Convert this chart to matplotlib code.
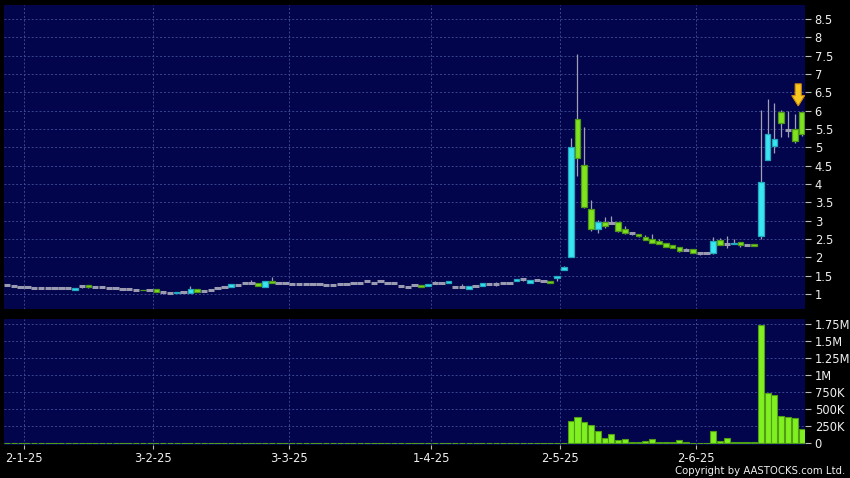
import matplotlib
matplotlib.use("Agg")
import matplotlib.pyplot as plt
import numpy as np
from matplotlib.patches import FancyArrow
from matplotlib.ticker import FixedLocator, FuncFormatter

# ---- data (trading-day index 0 = 27-12-24 ... 117 = 23-6-25) ----
opens = [1.25, 1.23, 1.20, 1.20, 1.16, 1.16, 1.16, 1.17, 1.15, 1.15,
         1.10, 1.22, 1.24, 1.18, 1.18, 1.17, 1.17, 1.14, 1.14, 1.11,
         1.12, 1.10, 1.13, 1.04, 1.02, 1.02, 1.06, 1.02, 1.13, 1.09,
         1.10, 1.15, 1.18, 1.18, 1.24, 1.29, 1.29, 1.29, 1.18, 1.36,
         1.29, 1.29, 1.27, 1.27, 1.27, 1.26, 1.26, 1.24, 1.24, 1.27,
         1.27, 1.30, 1.31, 1.34, 1.31, 1.34, 1.31, 1.29, 1.22, 1.19,
         1.24, 1.24, 1.23, 1.30, 1.31, 1.29, 1.18, 1.18, 1.13, 1.23,
         1.23, 1.27, 1.27, 1.30, 1.31, 1.35, 1.40, 1.31, 1.37, 1.35,
         1.35, 1.44, 1.66, 2.00, 5.76, 4.51, 3.31, 2.78, 2.95, 2.94,
         2.97, 2.76, 2.65, 2.63, 2.56, 2.49, 2.45, 2.38, 2.33, 2.27,
         2.20, 2.22, 2.13, 2.11, 2.11, 2.46, 2.36, 2.36, 2.43, 2.34,
         2.36, 2.58, 4.65, 5.03, 5.95, 5.47, 5.51, 5.95]
highs = [1.25, 1.23, 1.20, 1.20, 1.16, 1.16, 1.16, 1.17, 1.15, 1.15,
         1.17, 1.22, 1.24, 1.18, 1.18, 1.17, 1.17, 1.14, 1.14, 1.11,
         1.12, 1.10, 1.13, 1.04, 1.02, 1.06, 1.06, 1.22, 1.13, 1.09,
         1.10, 1.15, 1.18, 1.26, 1.24, 1.29, 1.38, 1.29, 1.35, 1.47,
         1.29, 1.29, 1.27, 1.27, 1.27, 1.26, 1.26, 1.24, 1.24, 1.27,
         1.27, 1.30, 1.31, 1.34, 1.31, 1.34, 1.31, 1.29, 1.22, 1.19,
         1.24, 1.24, 1.28, 1.36, 1.31, 1.35, 1.18, 1.26, 1.22, 1.23,
         1.29, 1.27, 1.33, 1.30, 1.31, 1.40, 1.44, 1.37, 1.37, 1.35,
         1.35, 1.50, 1.75, 5.25, 7.55, 5.55, 3.56, 3.02, 3.09, 3.13,
         2.97, 2.86, 2.68, 2.63, 2.62, 2.63, 2.50, 2.38, 2.33, 2.27,
         2.25, 2.22, 2.13, 2.11, 2.55, 2.52, 2.58, 2.50, 2.43, 2.36,
         2.36, 6.02, 6.31, 6.20, 6.02, 6.00, 5.90, 5.95]
lows = [1.25, 1.23, 1.20, 1.17, 1.16, 1.16, 1.16, 1.17, 1.15, 1.15,
        1.10, 1.15, 1.16, 1.18, 1.18, 1.17, 1.17, 1.11, 1.14, 1.11,
        1.10, 1.10, 1.05, 1.01, 1.02, 1.02, 1.06, 1.02, 1.06, 1.09,
        1.10, 1.15, 1.18, 1.18, 1.24, 1.29, 1.29, 1.22, 1.18, 1.29,
        1.29, 1.29, 1.27, 1.27, 1.27, 1.26, 1.26, 1.24, 1.24, 1.27,
        1.27, 1.30, 1.31, 1.34, 1.31, 1.34, 1.31, 1.29, 1.22, 1.19,
        1.24, 1.18, 1.23, 1.30, 1.31, 1.29, 1.18, 1.18, 1.13, 1.23,
        1.23, 1.27, 1.21, 1.30, 1.31, 1.35, 1.35, 1.31, 1.37, 1.35,
        1.30, 1.35, 1.66, 2.00, 4.22, 3.34, 2.73, 2.67, 2.79, 2.92,
        2.70, 2.63, 2.62, 2.56, 2.46, 2.40, 2.35, 2.29, 2.24, 2.14,
        2.18, 2.11, 2.05, 2.11, 2.10, 2.33, 2.26, 2.36, 2.27, 2.34,
        2.32, 2.49, 4.65, 4.85, 5.29, 5.28, 5.11, 5.32]
closes = [1.25, 1.23, 1.20, 1.20, 1.16, 1.16, 1.16, 1.17, 1.15, 1.15,
          1.17, 1.22, 1.19, 1.18, 1.18, 1.17, 1.17, 1.14, 1.14, 1.11,
          1.10, 1.10, 1.05, 1.04, 1.02, 1.06, 1.06, 1.13, 1.06, 1.09,
          1.10, 1.15, 1.18, 1.26, 1.24, 1.29, 1.29, 1.22, 1.35, 1.29,
          1.29, 1.29, 1.27, 1.27, 1.27, 1.26, 1.26, 1.24, 1.24, 1.27,
          1.27, 1.30, 1.31, 1.34, 1.31, 1.34, 1.31, 1.29, 1.22, 1.19,
          1.24, 1.18, 1.28, 1.30, 1.31, 1.35, 1.18, 1.18, 1.22, 1.23,
          1.29, 1.27, 1.27, 1.30, 1.31, 1.40, 1.40, 1.37, 1.37, 1.35,
          1.30, 1.50, 1.73, 5.02, 4.70, 3.38, 2.76, 2.96, 2.85, 2.94,
          2.71, 2.65, 2.65, 2.57, 2.47, 2.40, 2.36, 2.29, 2.24, 2.16,
          2.20, 2.11, 2.13, 2.11, 2.44, 2.33, 2.36, 2.40, 2.33, 2.34,
          2.32, 4.05, 5.36, 5.22, 5.65, 5.47, 5.18, 5.36]
volumes_k = [0] * 83 + [327, 386, 308, 268, 180, 78, 132, 48, 58, 20,
                        20, 34, 63, 20, 20, 20, 44, 20, 0, 8,
                        6, 180, 34, 78, 20, 20, 12, 12, 1730, 742,
                        708, 400, 390, 371, 214]
date_labels = ["2-1-25", "3-2-25", "3-3-25", "1-4-25", "2-5-25", "2-6-25"]
date_idx = [3, 22, 42, 63, 82, 102]
price_ticks = [1, 1.5, 2, 2.5, 3, 3.5, 4, 4.5, 5, 5.5, 6, 6.5, 7, 7.5, 8, 8.5]
vol_ticks_k = [0, 250, 500, 750, 1000, 1250, 1500, 1750]

# ---- styling ----
BG = "#02044c"
GRID = "#3a4690"
UP_FILL, UP_EDGE = "#3ae6f2", "#22a9c0"
DN_FILL, DN_EDGE = "#7fe31e", "#4e9a18"
FLAT = "#9a9ab0"
WICK = "#a0a0b4"
TXT = "#f0f0f0"

fig = plt.figure(figsize=(8.5, 4.78), dpi=100, facecolor="black")
W, H = 850, 478
ax1 = fig.add_axes([4 / W, 1 - 309 / H, 801 / W, 304 / H], facecolor=BG)
ax2 = fig.add_axes([4 / W, 1 - 445 / H, 801 / W, 126 / H], facecolor=BG, sharex=ax1)

o = np.array(opens); h = np.array(highs); l = np.array(lows); c = np.array(closes)
x = np.arange(len(o))
up = c > o
dn = c < o
flat = c == o

# wicks
ax1.vlines(x, l, h, color=WICK, linewidth=0.9, zorder=2)
# bodies
bw = 0.84
ax1.bar(x[up], (c - o)[up], bottom=o[up], width=bw, color=UP_FILL,
        edgecolor=UP_EDGE, linewidth=0.9, zorder=3)
ax1.bar(x[dn], (o - c)[dn], bottom=c[dn], width=bw, color=DN_FILL,
        edgecolor=DN_EDGE, linewidth=0.9, zorder=3)
ax1.hlines(c[flat], x[flat] - bw / 2 - 0.05, x[flat] + bw / 2 + 0.05,
           color=FLAT, linewidth=2.2, zorder=3)

# marker arrow above the last candle
last = len(o) - 1
arr = FancyArrow(last - 0.5, h[last] + 0.78, 0, -0.6, width=0.9,
                 head_width=1.9, head_length=0.28, length_includes_head=True,
                 facecolor="#f7c81e", edgecolor="#d08a10", linewidth=0.8, zorder=5)
ax1.add_patch(arr)

# volume
v = np.array(volumes_k) * 1000.0
ax2.bar(x, v, width=0.9, color="#80f020", edgecolor="#4f9e16", linewidth=0.8, zorder=3)

# axes ranges
ax1.set_xlim(-0.44, 117.5)
ax1.set_ylim(0.59, 8.88)
ax2.set_ylim(-25000, 1823000)

grid_pos = [i - 0.545 for i in date_idx]
for ax in (ax1, ax2):
    for s in ax.spines.values():
        s.set_visible(False)
    ax.yaxis.tick_right()
    ax.tick_params(axis="y", colors="#bbbbbb", labelcolor=TXT, labelsize=8.3,
                   length=4, width=0.8, pad=3, direction="out")
    ax.xaxis.set_major_locator(FixedLocator(grid_pos))
    ax.grid(True, color=GRID, linestyle=(0, (2, 2)), linewidth=0.7, zorder=0)
    ax.set_axisbelow(True)

ax1.yaxis.set_major_locator(FixedLocator(price_ticks))
ax1.yaxis.set_major_formatter(FuncFormatter(lambda val, pos: f"{val:g}"))
ax1.tick_params(axis="x", bottom=False, labelbottom=False)


def vfmt(val, pos):
    k = val / 1000.0
    if k == 0:
        return "0"
    if k >= 1000:
        return f"{k / 1000:g}M"
    return f"{k:g}K"


ax2.yaxis.set_major_locator(FixedLocator([t * 1000 for t in vol_ticks_k]))
ax2.yaxis.set_major_formatter(FuncFormatter(vfmt))
ax2.set_xticks(grid_pos)
ax2.set_xticklabels(date_labels)
ax2.tick_params(axis="x", colors="#bbbbbb", labelcolor=TXT, labelsize=8.3,
                length=3, width=0.8, pad=2)

fig.text(845 / W, 1 - 471 / H, "Copyright by AASTOCKS.com Ltd.", color=TXT,
         fontsize=7.3, ha="right", va="center")

fig.savefig("out.png", dpi=100, facecolor="black")
